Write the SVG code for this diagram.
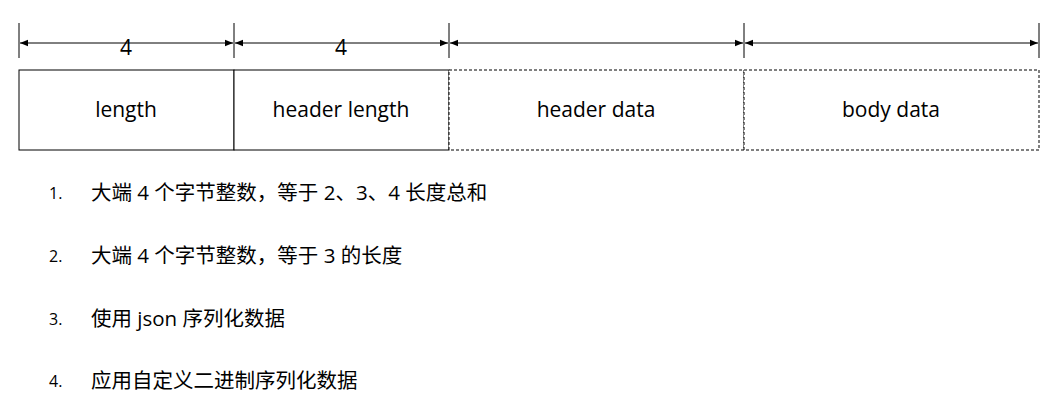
<svg xmlns="http://www.w3.org/2000/svg" width="1061" height="416" viewBox="0 0 1061 416">
<style>
.box{fill:#fff;stroke:#000;stroke-width:1}
.dash{stroke-dasharray:3 2}
.lbl{font-family:"Open Sans","Noto Sans","Liberation Sans",sans-serif;font-size:21px;fill:#000;text-anchor:middle}
.dim{stroke:#000;stroke-width:1;fill:none}
.item{font-family:"Open Sans","Noto Sans CJK SC",sans-serif;font-size:20.5px;fill:#000}
.num{font-family:"Open Sans","Liberation Sans",sans-serif;font-size:16px;fill:#000}
</style>
<defs>
<marker id="ah" viewBox="0 0 10 10" refX="10" refY="5" markerWidth="9" markerHeight="8" markerUnits="userSpaceOnUse" orient="auto-start-reverse">
<path d="M0,1 L10,5 L0,9 z" fill="#000"/>
</marker>
</defs>
<rect width="1061" height="416" fill="#fff"/>
<g id="connectors">
<line class="dim" x1="19" y1="23" x2="19" y2="58"/>
<line class="dim" x1="234" y1="23" x2="234" y2="58"/>
<line class="dim" x1="449" y1="23" x2="449" y2="58"/>
<line class="dim" x1="744" y1="23" x2="744" y2="58"/>
<line class="dim" x1="1039" y1="23" x2="1039" y2="58"/>
<line class="dim" x1="20" y1="43" x2="233" y2="43" marker-start="url(#ah)" marker-end="url(#ah)"/>
<line class="dim" x1="235" y1="43" x2="448" y2="43" marker-start="url(#ah)" marker-end="url(#ah)"/>
<line class="dim" x1="450" y1="43" x2="743" y2="43" marker-start="url(#ah)" marker-end="url(#ah)"/>
<line class="dim" x1="745" y1="43" x2="1038" y2="43" marker-start="url(#ah)" marker-end="url(#ah)"/>
<text class="lbl" x="126" y="55" font-size="22">4</text>
<text class="lbl" x="341" y="55" font-size="22">4</text>
</g>
<g id="length">
<rect class="box" x="19" y="70" width="215" height="80"/>
<text class="lbl" x="126" y="117">length</text>
</g>
<g id="header-length">
<rect class="box" x="234" y="70" width="215" height="80"/>
<text class="lbl" x="341" y="117">header length</text>
</g>
<g id="header-data">
<rect class="box dash" x="449" y="70" width="295" height="80"/>
<text class="lbl" x="596" y="117">header data</text>
</g>
<g id="body-data">
<rect class="box dash" x="744" y="70" width="295" height="80"/>
<text class="lbl" x="891" y="117">body data</text>
</g>
<g id="list">
<text class="num" x="49" y="199">1.</text>
<text class="item" x="91" y="200">大端 4 个字节整数，等于 2、3、4 长度总和</text>
<text class="num" x="49" y="262">2.</text>
<text class="item" x="91" y="263">大端 4 个字节整数，等于 3 的长度</text>
<text class="num" x="49" y="325">3.</text>
<text class="item" x="91" y="326">使用 json 序列化数据</text>
<text class="num" x="49" y="387">4.</text>
<text class="item" x="91" y="388">应用自定义二进制序列化数据</text>
</g>
</svg>
